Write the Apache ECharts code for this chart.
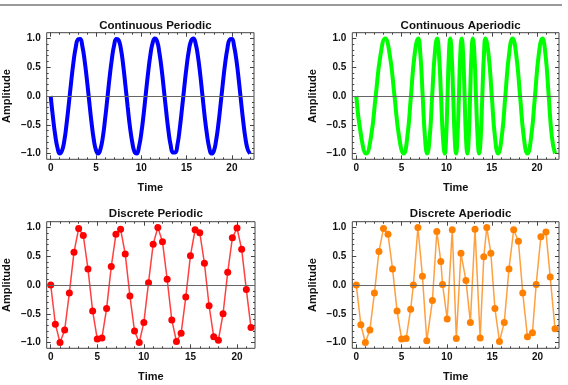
<!DOCTYPE html>
<html>
<head>
<meta charset="utf-8">
<script src="https://cdn.jsdelivr.net/npm/echarts@6/dist/echarts.min.js"></script>
<style>
html,body{margin:0;padding:0;background:#fff;}
#chart{width:568px;height:385px;}
</style>
</head>
<body>
<div id="chart"></div>
<script>
// ---------- DATA ----------
const panelTitles = ['Continuous Periodic', 'Continuous Aperiodic', 'Discrete Periodic', 'Discrete Aperiodic'];
const xTickLabels = [0, 5, 10, 15, 20];
const yTickLabels = [-1.0, -0.5, 0.0, 0.5, 1.0];
const xMinorTicks = [0,1,2,3,4,5,6,7,8,9,10,11,12,13,14,15,16,17,18,19,20,21,22];
const yMinorTicks = [-1.0,-0.9,-0.8,-0.7,-0.6,-0.5,-0.4,-0.3,-0.2,-0.1,0,0.1,0.2,0.3,0.4,0.5,0.6,0.7,0.8,0.9,1.0];

const contPeriodicTime = [0,0.25,0.5,0.75,1,1.25,1.5,1.75,2,2.25,2.5,2.75,3,3.25,3.5,3.75,4,4.25,4.5,4.75,5,5.25,5.5,5.75,6,6.25,6.5,6.75,7,7.25,7.5,7.75,8,8.25,8.5,8.75,9,9.25,9.5,9.75,10,10.25,10.5,10.75,11,11.25,11.5,11.75,12,12.25,12.5,12.75,13,13.25,13.5,13.75,14,14.25,14.5,14.75,15,15.25,15.5,15.75,16,16.25,16.5,16.75,17,17.25,17.5,17.75,18,18.25,18.5,18.75,19,19.25,19.5,19.75,20,20.25,20.5,20.75,21,21.25,21.5,21.75,22];
const contPeriodicAmp = [0,-0.37,-0.68,-0.90,-1.00,-0.95,-0.78,-0.49,-0.14,0.23,
  0.57,0.83,0.98,0.99,0.86,0.61,0.28,-0.09,-0.45,-0.75,
  -0.94,-1.00,-0.92,-0.72,-0.41,-0.05,0.32,0.64,0.88,0.99,
  0.97,0.82,0.54,0.18,-0.19,-0.54,-0.80,-0.97,-1.00,-0.88,
  -0.65,-0.33,0.04,0.40,0.71,0.92,1.00,0.95,0.75,0.46,
  0.10,-0.27,-0.61,-0.86,-0.98,-0.98,-0.84,-0.56,-0.21,0.16,
  0.51,0.79,0.96,1.00,0.91,0.69,0.38,0.01,-0.36,-0.67,
  -0.90,-1.00,-0.96,-0.78,-0.50,-0.15,0.22,0.56,0.82,0.98,
  0.99,0.86,0.62,0.29,-0.08,-0.44,-0.74,-0.93,-1.00];

const contAperiodicTime = [0,0.55,1.1,1.63,2.15,2.68,3.2,3.71,4.23,4.74,5.25,5.65,6.05,6.45,6.85,7.1,7.35,7.6,7.85,8.13,8.4,8.68,8.95,9.16,9.38,9.59,9.8,9.95,10.1,10.25,10.4,10.56,10.73,10.89,11.05,11.2,11.36,11.51,11.67,11.83,11.99,12.14,12.3,12.45,12.6,12.75,12.9,13.08,13.25,13.43,13.6,13.78,13.95,14.13,14.3,14.65,15.0,15.35,15.7,16.1,16.5,16.9,17.3,17.71,18.13,18.54,18.95,19.36,19.78,20.19,20.6,20.95,21.3,21.65,22.0];
const contAperiodicAmp = [0,-0.71,-1,
  -0.71,0,0.71,1, 0.71,0,-0.71,-1, -0.71,0,0.71,1, 0.71,0,-0.71,-1,
  -0.71,0,0.71,1, 0.71,0,-0.71,-1, -0.71,0,0.71,1, 0.71,0,-0.71,-1,
  -0.71,0,0.71,1, 0.71,0,-0.71,-1, -0.71,0,0.71,1, 0.71,0,-0.71,-1,
  -0.71,0,0.71,1, 0.71,0,-0.71,-1, -0.71,0,0.71,1, 0.71,0,-0.71,-1,
  -0.71,0,0.71,1, 0.71,0,-0.71,-1];

const discPeriodicTime = [0,0.5,1,1.5,2,2.5,3,3.5,4,4.5,5,5.5,6,6.5,7,7.5,8,8.5,9,9.5,10,10.5,11,11.5,12,12.5,13,13.5,14,14.5,15,15.5,16,16.5,17,17.5,18,18.5,19,19.5,20,20.5,21,21.5];
const discPeriodicAmp = [0,-0.68,-1.00,-0.78,-0.14,0.57,0.98,0.86,0.28,-0.45,-0.94,-0.92,-0.41,0.32,0.88,0.97,0.54,-0.19,-0.80,-1.00,-0.65,0.04,0.71,1.00,0.75,0.10,-0.61,-0.98,-0.84,-0.21,0.51,0.96,0.91,0.38,-0.36,-0.90,-0.96,-0.50,0.22,0.82,0.99,0.62,-0.08,-0.74];

const discAperiodicTime = [0,0.5,1,1.5,2,2.5,3,3.5,4,4.5,5,5.5,6,6.3,6.8,7.3,7.78,8.4,8.89,9.33,9.52,10.03,10.59,11.04,11.55,12.1,12.59,13.1,13.67,14.07,14.4,14.85,15.3,15.8,16.33,16.85,17.37,17.89,18.37,18.89,19.44,19.85,20.37,20.93,21.4,21.93];
const discAperiodicAmp = [0,-0.69,-1.0,-0.78,-0.14,0.58,0.98,0.88,0.28,-0.45,-0.94,-0.93,-0.42,0,1.0,0.15,-0.97,-0.27,0.93,0.41,0.01,-0.59,0.96,-0.93,0.55,0.08,-0.65,0.97,-0.92,0.49,1.0,0.55,-0.41,-0.98,-0.65,0.28,0.96,0.76,-0.14,-0.90,-0.83,0.01,0.84,0.92,0.14,-0.76];

// ---------- LAYOUT / STYLE ----------
const FONT = '"Liberation Sans", Arial, sans-serif';
const panels = [
  {rect:{left:46.7, top:32.7, width:207.3, height:126.6}, xr:[-0.44,22.44], t:contPeriodicTime, v:contPeriodicAmp, kind:'cont', color:'#0000ff', titleTop:15},
  {rect:{left:352.3, top:32.7, width:206.7, height:126.6}, xr:[-0.44,22.44], t:contAperiodicTime, v:contAperiodicAmp, kind:'cont', color:'#00ff00', titleTop:15},
  {rect:{left:46.7, top:221.7, width:208.3, height:126.6}, xr:[-0.43,21.93], t:discPeriodicTime, v:discPeriodicAmp, kind:'disc', color:'#ff0000', titleTop:203},
  {rect:{left:352.3, top:221.7, width:206.7, height:126.6}, xr:[-0.44,22.37], t:discAperiodicTime, v:discAperiodicAmp, kind:'disc', color:'#ff8000', titleTop:203}
];
const yr = [-1.1, 1.1];

const grids = [], xAxes = [], yAxes = [], series = [], titles = [];
const tickColor = '#444';
function fmtY(v){ const s = Math.abs(v).toFixed(1); return (v < -1e-9 ? '\u2212' : '') + s; }

panels.forEach((p, i) => {
  grids.push(Object.assign({show:true, borderColor:'#444', borderWidth:1, backgroundColor:'transparent', containLabel:false}, p.rect));
  titles.push({text:panelTitles[i], left:p.rect.left + p.rect.width/2, top:p.titleTop, textAlign:'center',
    textStyle:{fontFamily:FONT, fontSize:11.5, fontWeight:'bold', color:'#111'}});
});
panels.forEach((p, i) => {
  grids.push(Object.assign({show:false}, p.rect));
});

const noLine = {show:false, onZero:false};
panels.forEach((p, i) => {
  const mi = i + 4;
  const base = {type:'value', min:p.xr[0], max:p.xr[1], axisLine:noLine, splitLine:{show:false}};
  xAxes.push(Object.assign({}, base, {gridIndex:i, position:'bottom',
    axisTick:{show:true, inside:true, length:4, customValues:xTickLabels, lineStyle:{color:tickColor, width:1}},
    axisLabel:{show:true, customValues:xTickLabels, margin:4, fontFamily:FONT, fontSize:10, fontWeight:'bold', color:'#111'},
    name:'Time', nameLocation:'middle', nameGap:23,
    nameTextStyle:{fontFamily:FONT, fontSize:11, fontWeight:'bold', color:'#111'}}));
  xAxes.push(Object.assign({}, base, {gridIndex:i, position:'top',
    axisTick:{show:true, inside:true, length:4, customValues:xTickLabels, lineStyle:{color:tickColor, width:1}},
    axisLabel:{show:false}}));
  xAxes.push(Object.assign({}, base, {gridIndex:mi, position:'bottom',
    axisTick:{show:true, inside:true, length:2, customValues:xMinorTicks, lineStyle:{color:tickColor, width:1}},
    axisLabel:{show:false}}));
  xAxes.push(Object.assign({}, base, {gridIndex:mi, position:'top',
    axisTick:{show:true, inside:true, length:2, customValues:xMinorTicks, lineStyle:{color:tickColor, width:1}},
    axisLabel:{show:false}}));

  const ybase = {type:'value', min:yr[0], max:yr[1], axisLine:noLine, splitLine:{show:false}};
  yAxes.push(Object.assign({}, ybase, {gridIndex:i, position:'left',
    axisTick:{show:true, inside:true, length:4, customValues:yTickLabels, lineStyle:{color:tickColor, width:1}},
    axisLabel:{show:true, customValues:yTickLabels, formatter:fmtY, margin:6, fontFamily:FONT, fontSize:10, fontWeight:'bold', color:'#111'},
    name:'Amplitude', nameLocation:'middle', nameGap:34, nameRotate:90,
    nameTextStyle:{fontFamily:FONT, fontSize:11, fontWeight:'bold', color:'#111'}}));
  yAxes.push(Object.assign({}, ybase, {gridIndex:i, position:'right',
    axisTick:{show:true, inside:true, length:4, customValues:yTickLabels, lineStyle:{color:tickColor, width:1}},
    axisLabel:{show:false}}));
  yAxes.push(Object.assign({}, ybase, {gridIndex:mi, position:'left',
    axisTick:{show:true, inside:true, length:2, customValues:yMinorTicks, lineStyle:{color:tickColor, width:1}},
    axisLabel:{show:false}}));
  yAxes.push(Object.assign({}, ybase, {gridIndex:mi, position:'right',
    axisTick:{show:true, inside:true, length:2, customValues:yMinorTicks, lineStyle:{color:tickColor, width:1}},
    axisLabel:{show:false}}));

  const xi = i * 4, yi = i * 4;
  series.push({type:'line', xAxisIndex:xi, yAxisIndex:yi, data:[], z:1, silent:true,
    markLine:{silent:true, symbol:'none', label:{show:false}, animation:false,
      lineStyle:{color:'#666', width:1, type:'solid'}, emphasis:{disabled:true}, data:[{yAxis:0}]}});
  const data = p.t.map((t, k) => [t, p.v[k]]);
  if (p.kind === 'cont') {
    series.push({type:'line', xAxisIndex:xi, yAxisIndex:yi, data:data, smooth:0.5, showSymbol:false, z:3,
      lineStyle:{color:p.color, width:4}, animation:false, silent:true});
  } else {
    series.push({type:'line', xAxisIndex:xi, yAxisIndex:yi, data:data, smooth:false, z:3,
      symbol:'circle', symbolSize:7, showSymbol:true,
      itemStyle:{color:p.color, borderWidth:0},
      lineStyle:{color:p.color, width:1.5, opacity:0.75}, animation:false, silent:true});
  }
});

const chart = echarts.init(document.getElementById('chart'), null, {renderer:'canvas'});
chart.setOption({
  animation:false,
  backgroundColor:'#ffffff',
  title:titles,
  grid:grids,
  xAxis:xAxes,
  yAxis:yAxes,
  series:series,
  graphic:[{type:'line', shape:{x1:0, y1:5, x2:562, y2:5}, style:{stroke:'#9a9a9a', lineWidth:2}, silent:true}]
});
</script>
</body>
</html>
